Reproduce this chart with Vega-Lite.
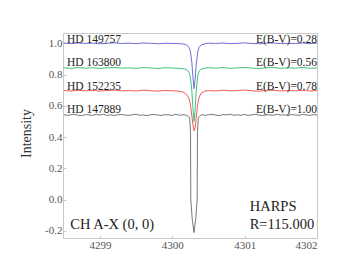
{
  "$schema": "https://vega.github.io/schema/vega-lite/v6.json",
  "autosize": {"type": "none"},
  "padding": {"left": 63, "top": 33, "right": 37, "bottom": 38},
  "width": 254,
  "height": 205,
  "background": "white",
  "config": {
    "font": "Liberation Serif, Times New Roman, serif",
    "text": {"font": "Liberation Serif, Times New Roman, serif"},
    "view": {"stroke": "#c8c8c8", "strokeWidth": 1},
    "axis": {"grid": false, "domainColor": "#c8c8c8", "tickColor": "#c8c8c8", "labelFont": "Liberation Serif, Times New Roman, serif", "labelFontSize": 11, "labelColor": "#555555", "titleFont": "Liberation Serif, Times New Roman, serif", "titleFontWeight": "normal", "titleColor": "#333333"}
  },
  "datasets": {
    "b": [
      {"x":4298.5,"y":1.001},{"x":4298.6,"y":0.998},{"x":4298.7,"y":1.002},{"x":4298.8,"y":0.999},{"x":4298.9,"y":1.001},{"x":4299.0,"y":0.997},{"x":4299.1,"y":1.000},{"x":4299.2,"y":1.003},{"x":4299.3,"y":0.999},{"x":4299.4,"y":1.001},{"x":4299.5,"y":0.998},{"x":4299.6,"y":1.002},{"x":4299.7,"y":1.000},{"x":4299.8,"y":0.997},{"x":4299.9,"y":1.001},{"x":4300.0,"y":0.999},{"x":4300.1,"y":0.998},{"x":4300.15,"y":0.996},{"x":4300.2,"y":0.990},{"x":4300.23,"y":0.975},{"x":4300.25,"y":0.950},{"x":4300.27,"y":0.880},{"x":4300.285,"y":0.790},{"x":4300.3,"y":0.710},{"x":4300.315,"y":0.770},{"x":4300.33,"y":0.860},{"x":4300.35,"y":0.940},{"x":4300.37,"y":0.975},{"x":4300.4,"y":0.990},{"x":4300.45,"y":0.997},{"x":4300.5,"y":1.001},{"x":4300.6,"y":0.999},{"x":4300.7,"y":1.002},{"x":4300.8,"y":0.998},{"x":4300.9,"y":1.000},{"x":4301.0,"y":1.003},{"x":4301.1,"y":0.999},{"x":4301.2,"y":0.997},{"x":4301.3,"y":1.001},{"x":4301.4,"y":1.002},{"x":4301.5,"y":0.998},{"x":4301.6,"y":1.000},{"x":4301.7,"y":0.999},{"x":4301.8,"y":1.002},{"x":4301.9,"y":0.998},{"x":4302.0,"y":1.001}
    ],
    "g": [
      {"x":4298.5,"y":0.843},{"x":4298.6,"y":0.840},{"x":4298.7,"y":0.845},{"x":4298.8,"y":0.841},{"x":4298.9,"y":0.844},{"x":4299.0,"y":0.839},{"x":4299.1,"y":0.843},{"x":4299.2,"y":0.846},{"x":4299.3,"y":0.841},{"x":4299.4,"y":0.843},{"x":4299.5,"y":0.840},{"x":4299.6,"y":0.845},{"x":4299.7,"y":0.842},{"x":4299.8,"y":0.839},{"x":4299.9,"y":0.844},{"x":4300.0,"y":0.842},{"x":4300.1,"y":0.840},{"x":4300.15,"y":0.838},{"x":4300.2,"y":0.832},{"x":4300.23,"y":0.815},{"x":4300.25,"y":0.785},{"x":4300.27,"y":0.700},{"x":4300.285,"y":0.590},{"x":4300.3,"y":0.500},{"x":4300.315,"y":0.570},{"x":4300.33,"y":0.690},{"x":4300.35,"y":0.785},{"x":4300.37,"y":0.822},{"x":4300.4,"y":0.836},{"x":4300.45,"y":0.841},{"x":4300.5,"y":0.844},{"x":4300.6,"y":0.841},{"x":4300.7,"y":0.845},{"x":4300.8,"y":0.840},{"x":4300.9,"y":0.843},{"x":4301.0,"y":0.846},{"x":4301.1,"y":0.841},{"x":4301.2,"y":0.839},{"x":4301.3,"y":0.844},{"x":4301.4,"y":0.845},{"x":4301.5,"y":0.840},{"x":4301.6,"y":0.843},{"x":4301.7,"y":0.841},{"x":4301.8,"y":0.846},{"x":4301.9,"y":0.840},{"x":4302.0,"y":0.843}
    ],
    "r": [
      {"x":4298.5,"y":0.698},{"x":4298.6,"y":0.695},{"x":4298.7,"y":0.700},{"x":4298.8,"y":0.696},{"x":4298.9,"y":0.699},{"x":4299.0,"y":0.694},{"x":4299.1,"y":0.698},{"x":4299.2,"y":0.701},{"x":4299.3,"y":0.696},{"x":4299.4,"y":0.698},{"x":4299.5,"y":0.695},{"x":4299.6,"y":0.700},{"x":4299.7,"y":0.697},{"x":4299.8,"y":0.694},{"x":4299.9,"y":0.699},{"x":4300.0,"y":0.696},{"x":4300.1,"y":0.694},{"x":4300.15,"y":0.688},{"x":4300.2,"y":0.672},{"x":4300.23,"y":0.648},{"x":4300.25,"y":0.610},{"x":4300.27,"y":0.540},{"x":4300.285,"y":0.480},{"x":4300.3,"y":0.440},{"x":4300.315,"y":0.455},{"x":4300.33,"y":0.520},{"x":4300.35,"y":0.605},{"x":4300.37,"y":0.655},{"x":4300.4,"y":0.682},{"x":4300.45,"y":0.694},{"x":4300.5,"y":0.698},{"x":4300.6,"y":0.695},{"x":4300.7,"y":0.700},{"x":4300.8,"y":0.696},{"x":4300.9,"y":0.698},{"x":4301.0,"y":0.701},{"x":4301.1,"y":0.696},{"x":4301.2,"y":0.694},{"x":4301.3,"y":0.699},{"x":4301.4,"y":0.700},{"x":4301.5,"y":0.695},{"x":4301.6,"y":0.698},{"x":4301.7,"y":0.696},{"x":4301.8,"y":0.700},{"x":4301.9,"y":0.695},{"x":4302.0,"y":0.698}
    ],
    "k": [
      {"x":4298.5,"y":0.544},{"x":4298.55,"y":0.539},{"x":4298.6,"y":0.543},{"x":4298.65,"y":0.546},{"x":4298.7,"y":0.540},{"x":4298.75,"y":0.538},{"x":4298.8,"y":0.544},{"x":4298.85,"y":0.542},{"x":4298.9,"y":0.539},{"x":4298.95,"y":0.545},{"x":4299.0,"y":0.541},{"x":4299.05,"y":0.546},{"x":4299.1,"y":0.539},{"x":4299.15,"y":0.543},{"x":4299.2,"y":0.538},{"x":4299.25,"y":0.543},{"x":4299.3,"y":0.545},{"x":4299.35,"y":0.541},{"x":4299.4,"y":0.539},{"x":4299.45,"y":0.544},{"x":4299.5,"y":0.546},{"x":4299.55,"y":0.540},{"x":4299.6,"y":0.542},{"x":4299.65,"y":0.538},{"x":4299.7,"y":0.543},{"x":4299.75,"y":0.545},{"x":4299.8,"y":0.541},{"x":4299.85,"y":0.539},{"x":4299.9,"y":0.544},{"x":4299.95,"y":0.542},{"x":4300.0,"y":0.539},{"x":4300.05,"y":0.546},{"x":4300.1,"y":0.540},{"x":4300.15,"y":0.543},{"x":4300.2,"y":0.540},{"x":4300.24,"y":0.525},{"x":4300.252,"y":0.43},{"x":4300.256,"y":0.0},{"x":4300.275,"y":-0.12},{"x":4300.3,"y":-0.21},{"x":4300.325,"y":-0.12},{"x":4300.344,"y":0.0},{"x":4300.348,"y":0.43},{"x":4300.36,"y":0.525},{"x":4300.4,"y":0.544},{"x":4300.45,"y":0.539},{"x":4300.5,"y":0.543},{"x":4300.55,"y":0.546},{"x":4300.6,"y":0.541},{"x":4300.65,"y":0.538},{"x":4300.7,"y":0.544},{"x":4300.75,"y":0.542},{"x":4300.8,"y":0.546},{"x":4300.85,"y":0.540},{"x":4300.9,"y":0.543},{"x":4300.95,"y":0.540},{"x":4301.0,"y":0.545},{"x":4301.05,"y":0.539},{"x":4301.1,"y":0.543},{"x":4301.15,"y":0.546},{"x":4301.2,"y":0.541},{"x":4301.25,"y":0.538},{"x":4301.3,"y":0.544},{"x":4301.35,"y":0.542},{"x":4301.4,"y":0.540},{"x":4301.45,"y":0.546},{"x":4301.5,"y":0.541},{"x":4301.55,"y":0.543},{"x":4301.6,"y":0.539},{"x":4301.65,"y":0.544},{"x":4301.7,"y":0.542},{"x":4301.75,"y":0.540},{"x":4301.8,"y":0.545},{"x":4301.85,"y":0.542},{"x":4301.9,"y":0.539},{"x":4301.95,"y":0.544},{"x":4302.0,"y":0.542}
    ],
    "leftlab": [
      {"x":4298.545,"y":1.0,"t":"HD 149757"},
      {"x":4298.545,"y":0.857,"t":"HD 163800"},
      {"x":4298.545,"y":0.701,"t":"HD 152235"},
      {"x":4298.545,"y":0.552,"t":"HD 147889"}
    ],
    "rightlab": [
      {"x":4302.0,"y":1.0,"t":"E(B-V)=0.28"},
      {"x":4302.0,"y":0.857,"t":"E(B-V)=0.56"},
      {"x":4302.0,"y":0.70,"t":"E(B-V)=0.78"},
      {"x":4302.0,"y":0.554,"t":"E(B-V)=1.00"}
    ],
    "big": [
      {"x":4298.59,"y":-0.187,"t":"CH A-X (0, 0)"},
      {"x":4301.07,"y":-0.072,"t":"HARPS"},
      {"x":4301.07,"y":-0.189,"t":"R=115.000"}
    ]
  },
  "encoding": {
    "x": {"field": "x", "type": "quantitative", "scale": {"domain": [4298.49, 4302.0], "nice": false, "zero": false},
      "axis": {"values": [4299, 4300, 4301, 4302], "format": "d", "title": null, "tickSize": -3, "labelPadding": 4, "domain": true}},
    "y": {"field": "y", "type": "quantitative", "scale": {"domain": [-0.245, 1.066], "nice": false, "zero": false},
      "axis": {"values": [-0.2, 0, 0.2, 0.4, 0.6, 0.8, 1.0], "labelExpr": "datum.value < 0 ? '-' + format(-datum.value, '.1f') : format(datum.value, '.1f')", "title": "Intensity", "titleFontSize": 14, "titleX": -37, "titleY": 100, "titleAngle": -90, "titleAlign": "center", "titleBaseline": "middle", "tickSize": -3, "labelPadding": 4}}
  },
  "layer": [
    {"data": {"name": "b"}, "mark": {"type": "line", "color": "#6f6fd6", "strokeWidth": 1, "clip": true}},
    {"data": {"name": "g"}, "mark": {"type": "line", "color": "#3fc27f", "strokeWidth": 1, "clip": true}},
    {"data": {"name": "r"}, "mark": {"type": "line", "color": "#f05b5b", "strokeWidth": 1, "clip": true}},
    {"data": {"name": "k"}, "mark": {"type": "line", "color": "#555555", "strokeWidth": 0.8, "clip": true}},
    {"data": {"name": "leftlab"}, "mark": {"type": "text", "align": "left", "baseline": "alphabetic", "fontSize": 11.5, "color": "#222222", "font": "Liberation Serif, Times New Roman, serif"}, "encoding": {"text": {"field": "t"}}},
    {"data": {"name": "rightlab"}, "mark": {"type": "text", "align": "right", "baseline": "alphabetic", "fontSize": 11.5, "color": "#222222", "font": "Liberation Serif, Times New Roman, serif"}, "encoding": {"text": {"field": "t"}}},
    {"data": {"name": "big"}, "mark": {"type": "text", "align": "left", "baseline": "alphabetic", "fontSize": 14.5, "color": "#222222", "font": "Liberation Serif, Times New Roman, serif"}, "encoding": {"text": {"field": "t"}}}
  ]
}
